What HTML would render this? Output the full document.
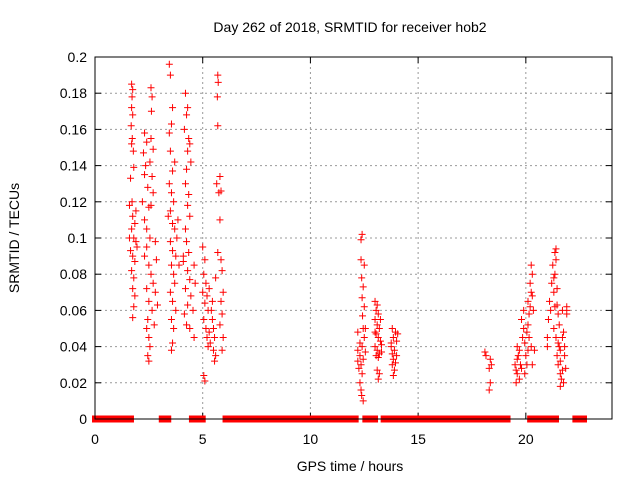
<!DOCTYPE html>
<html><head><meta charset="utf-8"><style>
body{margin:0;background:#fff}
svg{display:block;font-family:"Liberation Sans",sans-serif}
</style></head><body>
<svg id="chart" width="640" height="480" viewBox="0 0 640 480">
<text x="350" y="32" font-size="14" text-anchor="middle">Day 262 of 2018, SRMTID for receiver hob2</text>
<text x="350" y="471" font-size="14" text-anchor="middle">GPS time / hours</text>
<text x="19" y="238" font-size="14" text-anchor="middle" transform="rotate(-90 19 238)">SRMTID / TECUs</text>
<g id="grid"></g>
<g id="ticks"></g>
<g id="marks"></g>
<rect x="95" y="57" width="517" height="362" fill="none" stroke="#000" stroke-width="1"/>
</svg>
<script>
const xTicks=[0,5,10,15,20];
const yTicks=[0,0.02,0.04,0.06,0.08,0.1,0.12,0.14,0.16,0.18,0.2];
const yTickLabels=["0","0.02","0.04","0.06","0.08","0.1","0.12","0.14","0.16","0.18","0.2"];
const zeroRanges=[[0,1.67],[3.1,3.4],[4.5,5.0],[6.06,12.1],[12.55,13.0],[13.4,13.75],[14.0,14.7],[14.75,18.25],[18.3,19.15],[20.2,21.4],[22.3,22.7]];
const pointsA=[[1.7,0.185],[1.75,0.182],[1.72,0.178],[1.7,0.172],[1.75,0.168],[1.68,0.162],[1.73,0.155],[1.7,0.152],[1.78,0.148],[1.65,0.133],[1.8,0.139],[1.72,0.12],[1.6,0.118],[1.75,0.112],[1.85,0.108],[1.7,0.105],[1.8,0.1],[1.9,0.098],[1.65,0.093],[1.75,0.09],[1.85,0.087],[1.7,0.082],[1.8,0.078],[1.75,0.072],[1.85,0.068],[1.8,0.062],[1.75,0.056],[1.9,0.115],[1.95,0.095],[1.6,0.1]];
const pointsB=[[2.3,0.158],[2.4,0.153],[2.25,0.147],[2.35,0.14],[2.3,0.135],[2.45,0.128],[2.2,0.12],[2.5,0.117],[2.3,0.11],[2.4,0.105],[2.6,0.183],[2.65,0.178],[2.62,0.17],[2.6,0.155],[2.7,0.149],[2.55,0.142],[2.65,0.134],[2.7,0.125],[2.6,0.118],[2.55,0.1],[2.4,0.095],[2.3,0.09],[2.5,0.085],[2.6,0.08],[2.7,0.075],[2.4,0.072],[2.5,0.065],[2.65,0.06],[2.45,0.055],[2.4,0.05],[2.5,0.045],[2.55,0.04],[2.45,0.035],[2.5,0.032],[2.8,0.098],[2.85,0.088],[2.8,0.07],[2.9,0.063],[2.75,0.052]];
const pointsC=[[3.45,0.196],[3.5,0.19],[3.6,0.172],[3.55,0.163],[3.45,0.158],[3.5,0.148],[3.7,0.142],[3.6,0.137],[3.45,0.13],[3.55,0.125],[3.65,0.12],[3.5,0.115],[3.6,0.108],[3.7,0.105],[3.5,0.098],[3.6,0.093],[3.75,0.09],[3.55,0.085],[3.65,0.08],[3.7,0.075],[3.5,0.07],[3.6,0.065],[3.75,0.06],[3.55,0.055],[3.65,0.05],[3.6,0.042],[3.55,0.038],[3.8,0.1],[3.85,0.11],[3.9,0.085],[3.4,0.112]];
const pointsD=[[4.2,0.18],[4.3,0.172],[4.25,0.168],[4.15,0.16],[4.35,0.155],[4.4,0.152],[4.3,0.148],[4.45,0.142],[4.25,0.138],[4.2,0.13],[4.35,0.124],[4.3,0.118],[4.4,0.112],[4.2,0.105],[4.25,0.098],[4.35,0.092],[4.1,0.087],[4.3,0.082],[4.4,0.077],[4.2,0.072],[4.45,0.068],[4.3,0.063],[4.15,0.058],[4.25,0.052],[4.4,0.05],[4.6,0.085],[4.65,0.075],[4.55,0.06],[4.6,0.045],[4.1,0.09]];
const pointsE=[[5.0,0.095],[5.1,0.088],[5.05,0.08],[5.15,0.075],[5.0,0.07],[5.2,0.068],[5.1,0.064],[5.25,0.06],[5.05,0.055],[5.15,0.05],[5.3,0.048],[5.2,0.045],[5.35,0.042],[5.25,0.04],[5.4,0.06],[5.45,0.055],[5.5,0.05],[5.55,0.045],[5.5,0.038],[5.6,0.035],[5.55,0.032],[5.45,0.065],[5.3,0.072],[5.05,0.024],[5.1,0.021],[5.7,0.19],[5.72,0.186],[5.68,0.178],[5.7,0.162],[5.65,0.13],[5.75,0.125],[5.8,0.134],[5.85,0.126],[5.8,0.11],[5.85,0.088],[5.9,0.082],[5.95,0.07],[5.85,0.065],[5.9,0.058],[5.8,0.052],[5.95,0.045],[5.9,0.038],[5.7,0.092],[5.6,0.078]];
const pointsF=[[12.4,0.102],[12.35,0.099],[12.35,0.088],[12.5,0.085],[12.38,0.078],[12.45,0.073],[12.4,0.067],[12.5,0.062],[12.42,0.057],[12.45,0.05],[12.2,0.048],[12.55,0.05],[12.3,0.042],[12.4,0.04],[12.2,0.038],[12.3,0.035],[12.45,0.033],[12.35,0.03],[12.25,0.028],[12.4,0.025],[12.3,0.02],[12.35,0.016],[12.38,0.013],[12.45,0.01],[12.55,0.037],[12.2,0.032],[12.5,0.045]];
const pointsG=[[13.0,0.065],[13.1,0.063],[13.05,0.06],[13.15,0.058],[13.0,0.055],[13.1,0.052],[13.2,0.05],[13.05,0.047],[13.15,0.045],[13.25,0.043],[13.0,0.04],[13.1,0.038],[13.2,0.036],[13.3,0.041],[13.05,0.035],[13.15,0.034],[13.1,0.027],[13.2,0.025],[13.15,0.022],[13.0,0.048],[13.25,0.055],[13.3,0.037]];
const pointsH=[[13.8,0.05],[13.95,0.048],[13.85,0.045],[14.0,0.043],[13.75,0.04],[13.9,0.038],[13.8,0.036],[14.0,0.035],[13.85,0.033],[13.95,0.031],[13.8,0.03],[13.9,0.027],[13.85,0.024],[14.05,0.047],[13.75,0.042]];
const pointsI=[[18.1,0.037],[18.15,0.035],[18.35,0.033],[18.4,0.03],[18.3,0.028],[18.35,0.02],[18.3,0.016]];
const pointsJ=[[19.5,0.03],[19.55,0.027],[19.6,0.025],[19.65,0.035],[19.7,0.038],[19.6,0.04],[19.75,0.03],[19.8,0.028],[19.7,0.022],[19.85,0.045],[19.9,0.05],[19.8,0.055],[19.9,0.06],[19.95,0.042],[20.0,0.035],[20.05,0.03],[19.95,0.025],[20.1,0.052],[20.15,0.058],[20.2,0.062],[20.1,0.065],[20.25,0.07],[20.2,0.075],[20.3,0.08],[20.25,0.085],[20.3,0.068],[20.35,0.06],[20.15,0.045],[20.25,0.04],[20.4,0.038],[20.3,0.03],[20.05,0.048],[19.6,0.033],[19.55,0.02],[20.1,0.038]];
const pointsK=[[21.0,0.04],[21.0,0.045],[21.05,0.055],[21.1,0.065],[21.15,0.06],[21.2,0.075],[21.3,0.078],[21.25,0.085],[21.35,0.092],[21.4,0.094],[21.4,0.088],[21.35,0.08],[21.3,0.07],[21.45,0.072],[21.5,0.058],[21.45,0.063],[21.3,0.05],[21.4,0.045],[21.5,0.042],[21.55,0.04],[21.45,0.035],[21.6,0.038],[21.5,0.03],[21.6,0.032],[21.7,0.027],[21.65,0.022],[21.75,0.02],[21.6,0.025],[21.7,0.045],[21.8,0.04],[21.75,0.048],[21.8,0.035],[21.85,0.028],[21.9,0.06],[21.9,0.062],[21.9,0.058],[21.7,0.06],[21.55,0.052],[21.35,0.062],[21.6,0.018]];

const X0=95,X1=612,Y0=419,Y1=57,XMAX=24,YMAX=0.2;
function sx(v){return X0+(X1-X0)*v/XMAX;}
function sy(v){return Y0-(Y0-Y1)*v/YMAX;}
const NS="http://www.w3.org/2000/svg";
function mk(tag,attrs,parent){const e=document.createElementNS(NS,tag);for(const k in attrs)e.setAttribute(k,attrs[k]);parent.appendChild(e);return e;}
const grid=document.getElementById('grid'),ticks=document.getElementById('ticks'),marks=document.getElementById('marks');
yTicks.forEach((t,i)=>{const y=sy(t);
 if(i>0&&i<yTicks.length-1){const g=mk('line',{x1:X0,x2:X1,y1:y,y2:y,stroke:'#999','stroke-dasharray':'2,3'},grid);
 
 }
 mk('line',{x1:X0,x2:X0+6,y1:y,y2:y,stroke:'#000'},ticks);
 mk('line',{x1:X1-6,x2:X1,y1:y,y2:y,stroke:'#000'},ticks);
 const l=mk('text',{x:X0-8,y:y+5,'font-size':14,'text-anchor':'end'},ticks);l.textContent=yTickLabels[i];
 
 
});
xTicks.forEach(t=>{const x=sx(t);
 if(t>0){const g=mk('line',{x1:x,x2:x,y1:Y0,y2:Y1,stroke:'#999','stroke-dasharray':'2,3'},grid);
 
 }
 mk('line',{x1:x,x2:x,y1:Y0,y2:Y0-6,stroke:'#000'},ticks);
 mk('line',{x1:x,x2:x,y1:Y1,y2:Y1+6,stroke:'#000'},ticks);
 const l=mk('text',{x:x,y:Y0+25,'font-size':14,'text-anchor':'middle'},ticks);l.textContent=String(t);
 
 
});
zeroRanges.forEach(r=>{const a=sx(r[0]),b=sx(r[1]);
 const e=mk('rect',{x:a-3,y:Y0-3.5,width:b-a+6,height:7,fill:'#f00'},marks);
 
 
});
let d='';
[pointsA,pointsB,pointsC,pointsD,pointsE,pointsF,pointsG,pointsH,pointsI,pointsJ,pointsK].forEach(arr=>arr.forEach(p=>{
 const x=sx(p[0]),y=sy(p[1]);d+=`M${x-3.5},${y}h7M${x},${y-3.5}v7`;}));
const pp=mk('path',{d:d,stroke:'#f00','stroke-width':1,fill:'none'},marks);


</script>
</body></html>
